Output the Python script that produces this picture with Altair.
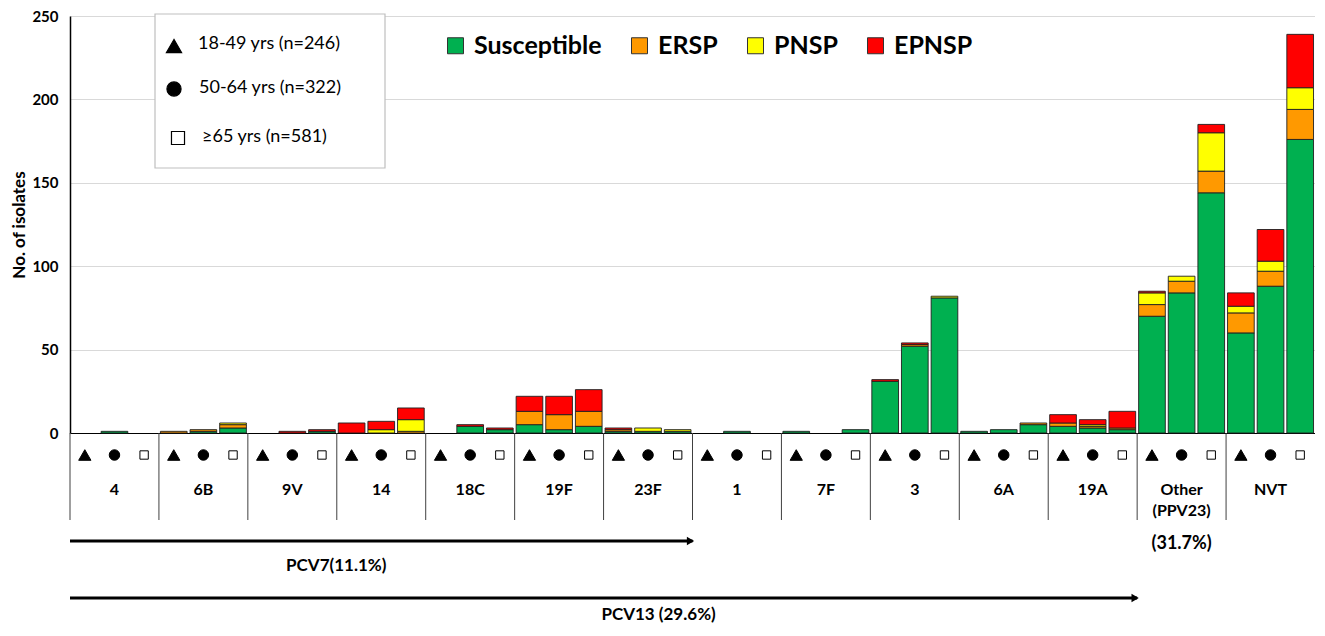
import altair as alt
import pandas as pd

# ---------------- data ----------------
groups = ["4", "6B", "9V", "14", "18C", "19F", "23F", "1", "7F", "3", "6A", "19A", "Other\n(PPV23)", "NVT"]
ages = ["18-49 yrs", "50-64 yrs", "≥65 yrs"]
age_legend = ["18-49 yrs (n=246)", "50-64 yrs (n=322)", "≥65 yrs (n=581)"]
types = ["Susceptible", "ERSP", "PNSP", "EPNSP"]
type_colors = ["#00B050", "#FF9900", "#FFFF00", "#FF0000"]

# one value per bar: serotype-major, age-minor (18-49, 50-64, >=65)
susceptible = [0, 1, 0, 0, 1, 3, 0, 0, 1, 0, 0, 0, 0, 4, 2, 5, 2, 4, 1, 1, 1, 0, 1, 0,
               1, 0, 2, 31, 52, 81, 1, 2, 5, 4, 3, 2, 70, 84, 144, 60, 88, 176]
ersp = [0, 0, 0, 1, 1, 2, 0, 0, 0, 0, 0, 1, 0, 0, 0, 8, 9, 9, 1, 0, 0, 0, 0, 0,
        0, 0, 0, 0, 1, 0, 0, 0, 1, 2, 1, 1, 7, 7, 13, 12, 9, 18]
pnsp = [0, 0, 0, 0, 0, 1, 0, 0, 0, 0, 2, 7, 0, 0, 0, 0, 0, 0, 0, 2, 1, 0, 0, 0,
        0, 0, 0, 0, 0, 1, 0, 0, 0, 0, 1, 0, 7, 3, 23, 4, 6, 13]
epnsp = [0, 0, 0, 0, 0, 0, 0, 1, 1, 6, 5, 7, 0, 1, 1, 9, 11, 13, 1, 0, 0, 0, 0, 0,
         0, 0, 0, 1, 1, 0, 0, 0, 0, 5, 3, 10, 1, 0, 5, 8, 19, 32]

vaccines = ["PCV7(11.1%)", "PCV13 (29.6%)"]
vaccine_groups = [7, 12]          # number of serotype columns covered by each vaccine
ppv23_share = "(31.7%)"

# ---------------- tables ----------------
slots = [f"{gi:02d}-{ai}" for gi in range(len(groups)) for ai in range(len(ages))]
series = {"Susceptible": susceptible, "ERSP": ersp, "PNSP": pnsp, "EPNSP": epnsp}
rows = []
for k, t in enumerate(types):
    for i, s in enumerate(slots):
        rows.append({"slot": s, "type": t, "k": k, "value": series[t][i]})
bars_df = pd.DataFrame(rows)
sym_df = pd.DataFrame({"slot": slots, "age": [ages[i % len(ages)] for i in range(len(slots))]})
grp_df = pd.DataFrame({"label": groups,
                       "center": [i + 0.5 for i in range(len(groups))],
                       "left": list(range(len(groups)))})

FONT = "Lato"

# ---------------- bars + age symbols (slot scale) ----------------
xs = alt.X("slot:N", sort=slots,
           scale=alt.Scale(domain=slots, paddingInner=0.1, paddingOuter=0.05),
           axis=alt.Axis(title=None, labels=False, ticks=False, grid=False,
                         domainColor="black", domainWidth=1.2))

bars = alt.Chart(bars_df).transform_filter("datum.value > 0").mark_bar(
    stroke="#1f1f1f", strokeWidth=0.9
).encode(
    x=xs,
    y=alt.Y("value:Q", stack="zero",
            scale=alt.Scale(domain=[0, 250], nice=False),
            axis=alt.Axis(values=[0, 50, 100, 150, 200, 250], title="No. of isolates",
                          titleFont=FONT, titleFontSize=17, titleFontWeight="bold",
                          titleColor="black", titlePadding=3,
                          labelFont=FONT, labelFontSize=15, labelFontWeight="bold",
                          labelColor="black", labelPadding=12, ticks=False,
                          domainColor="black", domainWidth=1.5,
                          grid=True, gridColor="#d9d9d9", gridWidth=1)),
    color=alt.Color("type:N", scale=alt.Scale(domain=types, range=type_colors),
                    legend=alt.Legend(orient="none", legendX=373, legendY=17,
                                      direction="horizontal", title=None,
                                      symbolType="square", symbolSize=256,
                                      symbolStrokeColor="#333333", symbolStrokeWidth=1,
                                      labelFont=FONT, labelFontSize=25, labelFontWeight="bold",
                                      labelColor="black", labelOffset=6,
                                      columnPadding=25, padding=0)),
    order=alt.Order("k:Q", sort="ascending"),
)

syms = alt.Chart(sym_df).mark_point(filled=True, stroke="black", strokeWidth=1, opacity=1).encode(
    x=xs,
    y=alt.value(439),
    shape=alt.Shape("age:N", scale=alt.Scale(domain=ages, range=["triangle-up", "circle", "square"]), legend=None),
    fill=alt.Fill("age:N", scale=alt.Scale(domain=ages, range=["black", "black", "white"]), legend=None),
    size=alt.Size("age:O", scale=alt.Scale(domain=ages, range=[150, 70, 90]), legend=None),
)

layer_a = alt.layer(bars, syms)

# ---------------- category table + vaccine arrows (group scale) ----------------
gx = alt.Scale(domain=[0, len(groups)], nice=False, zero=False)

labels = alt.Chart(grp_df).mark_text(
    font=FONT, fontWeight="bold", fontSize=16, baseline="top", lineBreak="\n",
    lineHeight=21, color="black"
).encode(x=alt.X("center:Q", scale=gx, axis=None), y=alt.value(466), text="label:N")

dividers = alt.Chart(grp_df).mark_rule(color="#404040", strokeWidth=1).encode(
    x=alt.X("left:Q", scale=gx, axis=None), y=alt.value(417), y2=alt.value(504))

b_layers = [labels, dividers]
arrow_y = [525, 582]
label_y = [550, 599]
label_dx = [-45, 55]
for i, (name, n) in enumerate(zip(vaccines, vaccine_groups)):
    vdf = pd.DataFrame({"label": [name], "start": [0], "end": [n], "mid": [n / 2]})
    b_layers.append(alt.Chart(vdf).mark_rule(color="black", strokeWidth=3).encode(
        x=alt.X("start:Q", scale=gx, axis=None), x2="end:Q", y=alt.value(arrow_y[i])))
    b_layers.append(alt.Chart(vdf).mark_point(shape="triangle-right", filled=True, color="black",
                                              size=70, opacity=1, xOffset=-2).encode(
        x=alt.X("end:Q", scale=gx, axis=None), y=alt.value(arrow_y[i])))
    b_layers.append(alt.Chart(vdf).mark_text(font=FONT, fontWeight="bold", fontSize=17,
                                             color="black", dx=label_dx[i]).encode(
        x=alt.X("mid:Q", scale=gx, axis=None), y=alt.value(label_y[i]), text="label:N"))

ppv_df = pd.DataFrame({"label": [ppv23_share], "center": [groups.index("Other\n(PPV23)") + 0.5]})
b_layers.append(alt.Chart(ppv_df).mark_text(font=FONT, fontWeight="bold", fontSize=18, color="black").encode(
    x=alt.X("center:Q", scale=gx, axis=None), y=alt.value(528), text="label:N"))

layer_b = alt.layer(*b_layers)

# ---------------- age legend box ----------------
one = pd.DataFrame({"a": [0]})
box = alt.Chart(one).mark_rect(fill="white", stroke="#bfbfbf", strokeWidth=1.2).encode(
    x=alt.value(85), x2=alt.value(315), y=alt.value(-2), y2=alt.value(152))

c_layers = [box]
leg_sym_y = [30, 73, 122]
leg_txt_y = [28, 72, 121]
leg_shapes = ["triangle-up", "circle", "square"]
leg_sizes = [230, 200, 170]
leg_fill = ["black", "black", "white"]
leg_sym_x = [104, 104, 108]
leg_txt_x = [128, 129, 132]
for i, lbl in enumerate(age_legend):
    ldf = pd.DataFrame({"label": [lbl]})
    c_layers.append(alt.Chart(ldf).mark_point(shape=leg_shapes[i], filled=True, fill=leg_fill[i],
                                              stroke="black", strokeWidth=1.2, size=leg_sizes[i],
                                              opacity=1).encode(
        x=alt.value(leg_sym_x[i]), y=alt.value(leg_sym_y[i])))
    c_layers.append(alt.Chart(ldf).mark_text(font=FONT, fontSize=18, align="left", baseline="middle",
                                             color="black").encode(
        x=alt.value(leg_txt_x[i]), y=alt.value(leg_txt_y[i]), text="label:N"))

chart = alt.layer(layer_a, layer_b, *c_layers).resolve_scale(x="independent").properties(
    width=1245, height=417,
    autosize=alt.AutoSizeParams(type="none"),
    padding={"left": 62, "top": 8, "right": 0, "bottom": 193},
).configure_view(stroke=None)

chart.save("out.html", embed_options={"renderer": "svg", "actions": False})
